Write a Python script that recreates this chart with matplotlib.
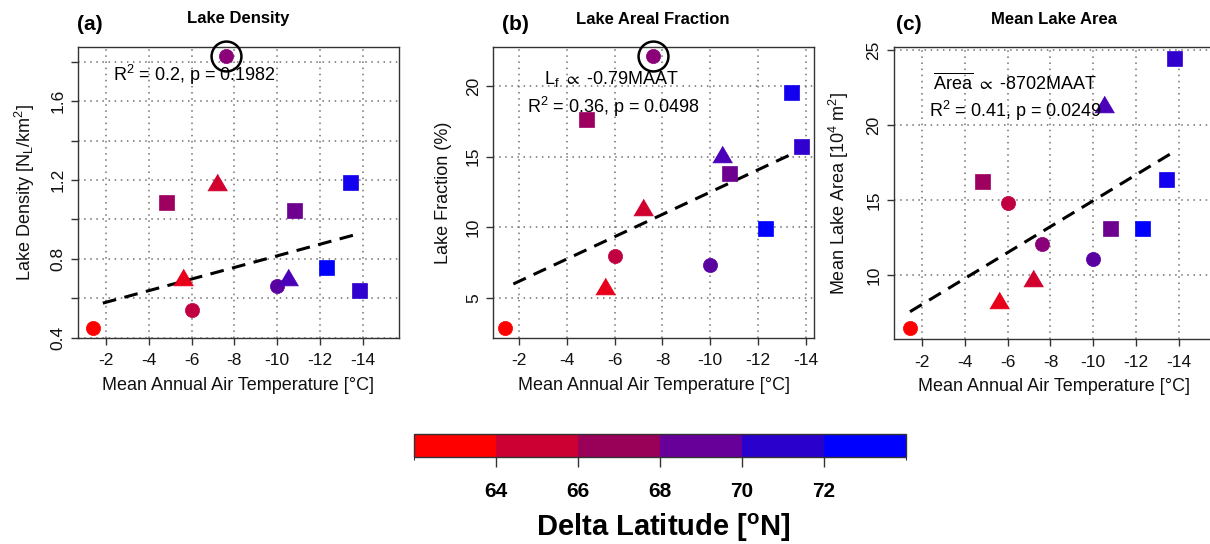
import matplotlib
matplotlib.use('Agg')
import matplotlib.pyplot as plt
import matplotlib as mpl
from matplotlib.colors import ListedColormap, BoundaryNorm

plt.rcParams['font.family'] = ['Liberation Sans', 'DejaVu Sans']
plt.rcParams['mathtext.fontset'] = 'custom'
plt.rcParams['mathtext.rm'] = 'Liberation Sans'
plt.rcParams['mathtext.it'] = 'Liberation Sans:italic'
plt.rcParams['mathtext.bf'] = 'Liberation Sans:bold'
plt.rcParams['mathtext.fallback'] = 'stixsans'

# ---------------- data ----------------
maat = [-1.4, -4.8, -5.6, -6.0, -7.2, -7.6, -10.0, -10.5, -10.8, -12.3, -13.4, -13.8]
site_markers = ['o', 's', '^', 'o', '^', 'o', 'o', '^', 's', 's', 's', 's']
site_colors = ['#FF0000', '#9E0060', '#E8001A', '#C00040', '#D0002F', '#8A0078',
               '#5A00A0', '#4A00B8', '#6E0090', '#0000FF', '#1200EE', '#3000CE']
density = [0.45, 1.09, 0.71, 0.54, 1.19, 1.83, 0.66, 0.71, 1.05, 0.76, 1.19, 0.64]
fraction = [2.87, 17.65, 5.83, 7.98, 11.45, 22.1, 7.32, 15.17, 13.82, 9.97, 19.55, 15.76]
area = [6.45, 16.27, 8.33, 14.78, 9.82, 12.07, 11.07, 21.38, 13.15, 13.15, 16.4, 24.44]
outlier_index = 5

fit_a_x, fit_a_y = [-1.85, -13.8], [0.575, 0.927]
fit_b_x, fit_b_y = [-1.75, -14.0], [5.97, 15.64]
fit_c_x, fit_c_y = [-1.42, -13.92], [7.55, 18.33]

x_ticks = [-2, -4, -6, -8, -10, -12, -14]
x_tick_labels = ['-2', '-4', '-6', '-8', '-10', '-12', '-14']
a_yticks = [0.4, 0.6, 0.8, 1.0, 1.2, 1.4, 1.6, 1.8]
a_ylabels = ['0.4', '', '0.8', '', '1.2', '', '1.6', '']
b_yticks = [5, 10, 15, 20]
b_ylabels = ['5', '10', '15', '20']
c_yticks = [10, 15, 20, 25]
c_ylabels = ['10', '15', '20', '25']

cb_bounds = [62, 64, 66, 68, 70, 72, 74]
cb_colors = ['#FF0000', '#CC0033', '#990058', '#660099', '#2A00CC', '#0000FF']
cb_ticks = [64, 66, 68, 70, 72]

# ---------------- layout ----------------
W, H = 1210, 544
fig = plt.figure(figsize=(W / 100, H / 100), dpi=100)


def rect(l, r, t, b):
    return [l / W, 1 - b / H, (r - l) / W, (b - t) / H]


tri = [(-1, -0.85), (1, -0.85), (0, 0.85)]


def mk(m):
    return tri if m == '^' else m


def msize(m):
    return {'o': 10.2, 's': 10.8, '^': 14.2}[m]


panels = [
    dict(rect=rect(78, 399, 47, 338), xlim=(-0.69, -15.69), ylim=(0.398, 1.875),
         y=density, yt=a_yticks, yl=a_ylabels, fx=fit_a_x, fy=fit_a_y,
         ylabel='Lake Density [N$_\\mathregular{L}$/km$^\\mathregular{2}$]',
         title='Lake Density', tag='(a)', tagx=77, titlex=238, ylabx=25, circle=True),
    dict(rect=rect(493.3, 814, 47, 338), xlim=(-0.91, -14.35), ylim=(2.14, 22.77),
         y=fraction, yt=b_yticks, yl=b_ylabels, fx=fit_b_x, fy=fit_b_y,
         ylabel='Lake Fraction (%)',
         title='Lake Areal Fraction', tag='(b)', tagx=502, titlex=653, ylabx=443, circle=True),
    dict(rect=rect(894, 1214.6, 46.7, 339.3), xlim=(-0.67, -15.69), ylim=(5.71, 25.22),
         y=area, yt=c_yticks, yl=c_ylabels, fx=fit_c_x, fy=fit_c_y,
         ylabel='Mean Lake Area [10$^\\mathregular{4}$ m$^\\mathregular{2}$]',
         title='Mean Lake Area', tag='(c)', tagx=896, titlex=1054, ylabx=839, circle=False),
]

axes = []
for p in panels:
    ax = fig.add_axes(p['rect'])
    axes.append(ax)
    ax.set_xlim(*p['xlim'])
    ax.set_ylim(*p['ylim'])
    ax.set_xticks(x_ticks)
    ax.set_xticklabels(x_tick_labels)
    ax.set_yticks(p['yt'])
    ax.set_yticklabels(p['yl'])
    ax.set_axisbelow(True)
    ax.grid(True, linestyle=(0, (1, 3)), color='#707070', lw=1.1)
    for s in ax.spines.values():
        s.set_color('#333333')
        s.set_linewidth(1.0)
    ax.tick_params(axis='both', direction='out', length=5, width=1, color='#333333',
                   labelsize=12.5, labelcolor='#111111')
    ax.tick_params(axis='x', pad=6)
    ax.tick_params(axis='y', pad=4)
    for lab in ax.get_yticklabels():
        lab.set_rotation(90)
        lab.set_va('center')
    ax.set_xlabel('Mean Annual Air Temperature [°C]', fontsize=13, labelpad=6, color='#111111')
    ax.plot(p['fx'], p['fy'], color='black', lw=2.2, ls=(0, (4.5, 2.8)), zorder=3)
    for x, y, m, c in zip(maat, p['y'], site_markers, site_colors):
        ax.plot([x], [y], ls='none', marker=mk(m), ms=msize(m), mfc=c, mec=c, mew=0.5, zorder=4)
    if p['circle']:
        ax.plot([maat[outlier_index]], [p['y'][outlier_index]], ls='none', marker='o',
                ms=21.5, mfc='none', mec='black', mew=1.8, clip_on=False, zorder=5)
    ycen = p['rect'][1] + p['rect'][3] / 2
    fig.text(p['ylabx'] / W, ycen, p['ylabel'], rotation=90, fontsize=13,
             ha='center', va='center', color='#111111')
    fig.text(p['titlex'] / W, 1 - 19 / H, p['title'], fontsize=12, fontweight='bold',
             ha='center', va='center')
    fig.text(p['tagx'] / W, 1 - 25 / H, p['tag'], fontsize=15, fontweight='bold',
             ha='left', va='center')

# annotations
fs_ann = 13
fig.text(113 / W, 1 - 75 / H, 'R$^\\mathregular{2}$ = 0.2, p = 0.1982', fontsize=fs_ann,
         ha='left', va='center')
fig.text(612 / W, 1 - 79 / H, 'L$_\\mathregular{f}$ $\\propto$ -0.79MAAT', fontsize=fs_ann,
         ha='center', va='center')
fig.text(613 / W, 1 - 107 / H, 'R$^\\mathregular{2}$ = 0.36, p = 0.0498', fontsize=fs_ann,
         ha='center', va='center')
fig.text(933 / W, 1 - 83 / H, '$\\overline{\\mathregular{Area}}$ $\\propto$ -8702MAAT',
         fontsize=fs_ann, ha='left', va='center')
fig.text(929 / W, 1 - 111 / H, 'R$^\\mathregular{2}$ = 0.41, p = 0.0249', fontsize=fs_ann,
         ha='left', va='center')

# colorbar
cax = fig.add_axes(rect(414, 905.7, 434, 457.3))
cmap = ListedColormap(cb_colors)
norm = BoundaryNorm(cb_bounds, cmap.N)
cb = mpl.colorbar.ColorbarBase(cax, cmap=cmap, norm=norm, orientation='horizontal',
                               ticks=cb_ticks)
cb.outline.set_edgecolor('#333333')
cb.outline.set_linewidth(1.0)
cax.tick_params(axis='x', length=7, width=1, color='#333333', pad=11, labelsize=15)
cax.set_xticklabels([str(t) for t in cb_ticks], fontweight='bold')
fig.text(663 / W, 1 - 528 / H, 'Delta Latitude [$\\mathbf{^{o}}$N]', fontsize=21,
         fontweight='bold', ha='center', va='center')

fig.savefig('out.png', dpi=100)
